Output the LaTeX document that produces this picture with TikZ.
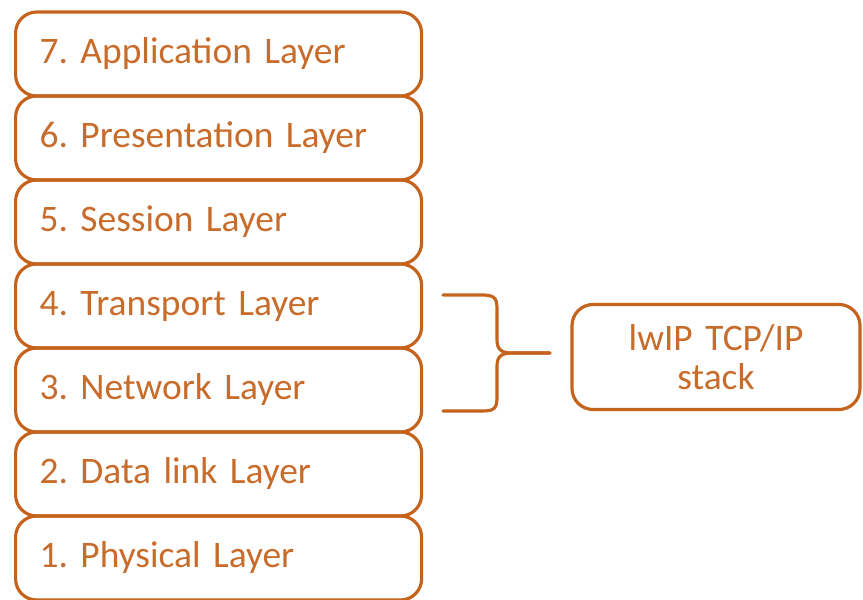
\documentclass[tikz,border=0pt]{standalone}
\usepackage{fontspec}
\setmainfont{Carlito}
\usetikzlibrary{positioning}
\definecolor{layerline}{RGB}{197, 98, 28}
\definecolor{layertext}{RGB}{200, 108, 44}
\tikzset{
  layerbox/.style={
    draw=layerline, rectangle, rounded corners=12pt, line width=1.8pt,
    inner xsep=0.48cm, inner ysep=0pt, text width=7.16cm, align=left,
    minimum height=1.68cm, text=layertext, anchor=west
  },
  stackbox/.style={
    draw=layerline, rectangle, rounded corners=12pt, line width=1.8pt,
    minimum width=5.76cm, minimum height=2.1cm, text width=5cm, align=center,
    text=layertext
  },
  bracket/.style={
    draw=layerline, line width=1.8pt, line cap=round
  }
}

\begin{document}
\frenchspacing
\begin{tikzpicture}[x=0.2mm, y=-0.2mm, font=\fontsize{21.3}{21.8}\selectfont]
        \useasboundingbox (0,0) rectangle (863,600);
        % OSI layers
        \node[layerbox] (l7) at (14,54) {7. Application Layer};
        \node[layerbox] (l6) at (14,138) {6. Presentation Layer};
        \node[layerbox] (l5) at (14,222) {5. Session Layer};
        \node[layerbox] (l4) at (14,306) {4. Transport Layer};
        \node[layerbox] (l3) at (14,390) {3. Network Layer};
        \node[layerbox] (l2) at (14,474) {2. Data link Layer};
        \node[layerbox] (l1) at (14,558) {1. Physical Layer};

        \node[stackbox] (lwip) at (716,357) {lwIP TCP/IP\\stack};

        % brace over transport and network
        \coordinate (bracetop) at (443,295);
        \coordinate (bracetip) at (550,353);
        \coordinate (bracebot) at (443,411);
        \draw[bracket] (bracetop) -- (482,295) .. controls (497,295) and (497,300) .. (497,312)
          -- (497,340) .. controls (497,350) and (502,353) .. (512,353) -- (bracetip);
        \draw[bracket] (bracetip) -- (512,353) .. controls (502,353) and (497,356) .. (497,366)
          -- (497,396) .. controls (497,408) and (495,411) .. (482,411) -- (bracebot);
      \end{tikzpicture}
\end{document}
